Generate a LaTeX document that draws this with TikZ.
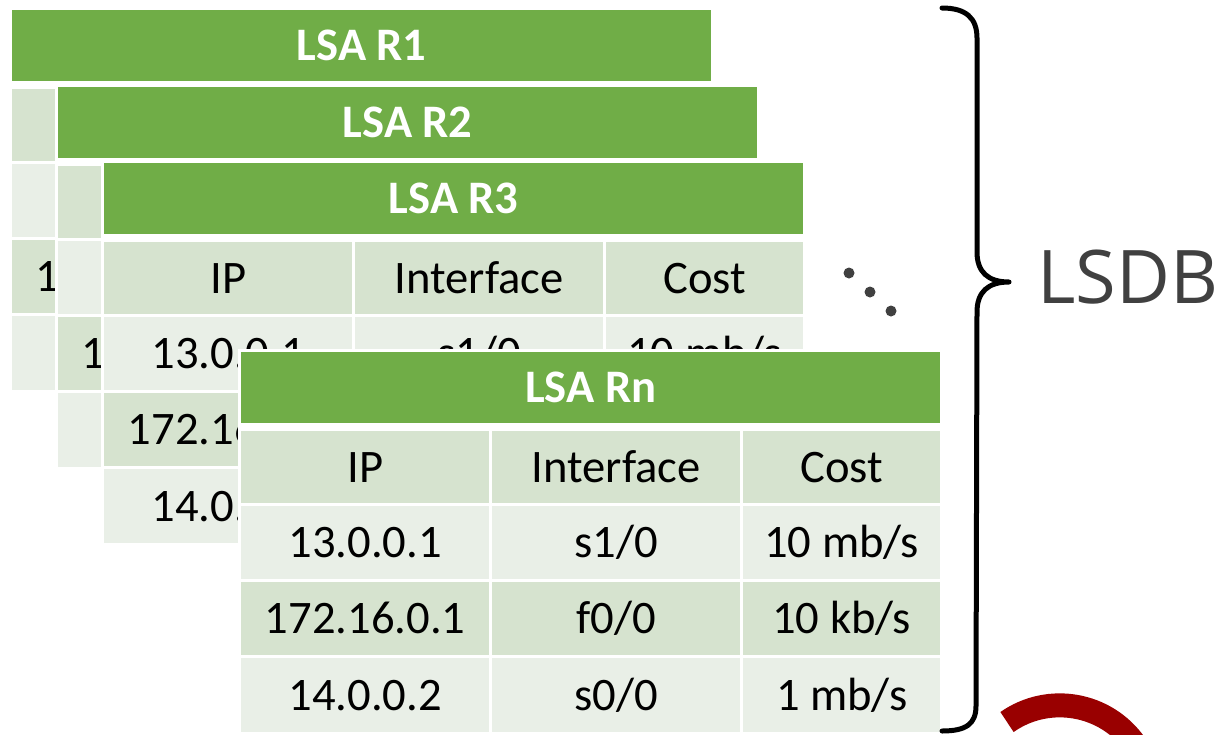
\documentclass[tikz,border=0pt]{standalone}
\usepackage{fontspec}
\setmainfont{Carlito}
\newfontfamily\labelfont{Open Sans}

\definecolor{lsagreen}{HTML}{70AD47}
\definecolor{banddark}{HTML}{D6E3CF}
\definecolor{bandlight}{HTML}{E9EFE7}
\definecolor{inkgray}{HTML}{404040}
\definecolor{arcred}{HTML}{990000}

\tikzset{
  cell/.style={rectangle, inner sep=0pt, anchor=north west,
    text height=30pt, text depth=0pt, text=black,
    font=\fontsize{46.6}{50}\selectfont},
  hdrcell/.style={cell, fill=lsagreen, text=white,
    font=\fontsize{46.6}{50}\selectfont\bfseries,
    minimum width=699pt, minimum height=71pt},
  bracepen/.style={draw=black, line width=5pt, line cap=round, line join=round},
  dotmark/.style={fill=inkgray},
}

% one data row of an LSA table: prefix, row id, top, height, fill, three texts
\newcommand\lsarow[8]{%
  \node[cell, fill=#5, minimum width=248pt, minimum height=#4pt] (#1-#2a) at (0,#3) {#6};
  \node[cell, fill=#5, minimum width=248pt, minimum height=#4pt] (#1-#2b) at (251,#3) {#7};
  \node[cell, fill=#5, minimum width=197pt, minimum height=#4pt] (#1-#2c) at (502,#3) {#8};
}

% a complete LSA table: prefix, left, top, title
\newcommand\lsatable[4]{%
  \begin{scope}[shift={(#2,#3)}]
    \fill[white] (-3,-3) rectangle (702,383);
    \node[hdrcell] (#1-h) at (0,0) {#4};
    \lsarow{#1}{1}{79}{72}{banddark}{IP}{Interface}{Cost}
    \lsarow{#1}{2}{154}{73}{bandlight}{13.0.0.1}{s1/0}{10 mb/s}
    \lsarow{#1}{3}{230}{73}{banddark}{172.16.0.1}{f0/0}{10 kb/s}
    \lsarow{#1}{4}{306}{74}{bandlight}{14.0.0.2}{s0/0}{1 mb/s}
  \end{scope}}

\begin{document}
\begin{tikzpicture}[x=1pt, y=-1pt]
  \useasboundingbox (0,0) rectangle (1221,734);
  \clip (0,0) rectangle (1221,734);

  % stacked link-state advertisements, back to front
  \lsatable{ra}{12}{10}{LSA R1}
  \lsatable{rb}{58}{87}{LSA R2}
  \lsatable{rc}{104}{163}{LSA R3}
  \lsatable{rn}{241}{352}{LSA Rn}

  % ellipsis between R3 and Rn
  \fill[dotmark] (849,273) circle[radius=5.5];
  \fill[dotmark] (870,292) circle[radius=5.5];
  \fill[dotmark] (891,311) circle[radius=5.5];

  % curly brace grouping all tables
  \draw[bracepen] (942,8) .. controls (966,8) and (977,18) .. (977,38)
    -- (977,252) .. controls (977,272) and (988,282) .. (1009,282)
    .. controls (988,282) and (977,292) .. (977,312)
    -- (976,706) .. controls (976,724) and (966,731) .. (942,731);

  \node[font=\labelfont\fontsize{74}{80}\selectfont, text=inkgray,
        anchor=base west, inner sep=0pt] (lsdb) at (1037,303) {LSDB};

  % partial red ring at the lower right
  \draw[arcred, line width=24pt] (1007,722) arc[start angle=-125, end angle=10, radius=92];
\end{tikzpicture}
\end{document}
